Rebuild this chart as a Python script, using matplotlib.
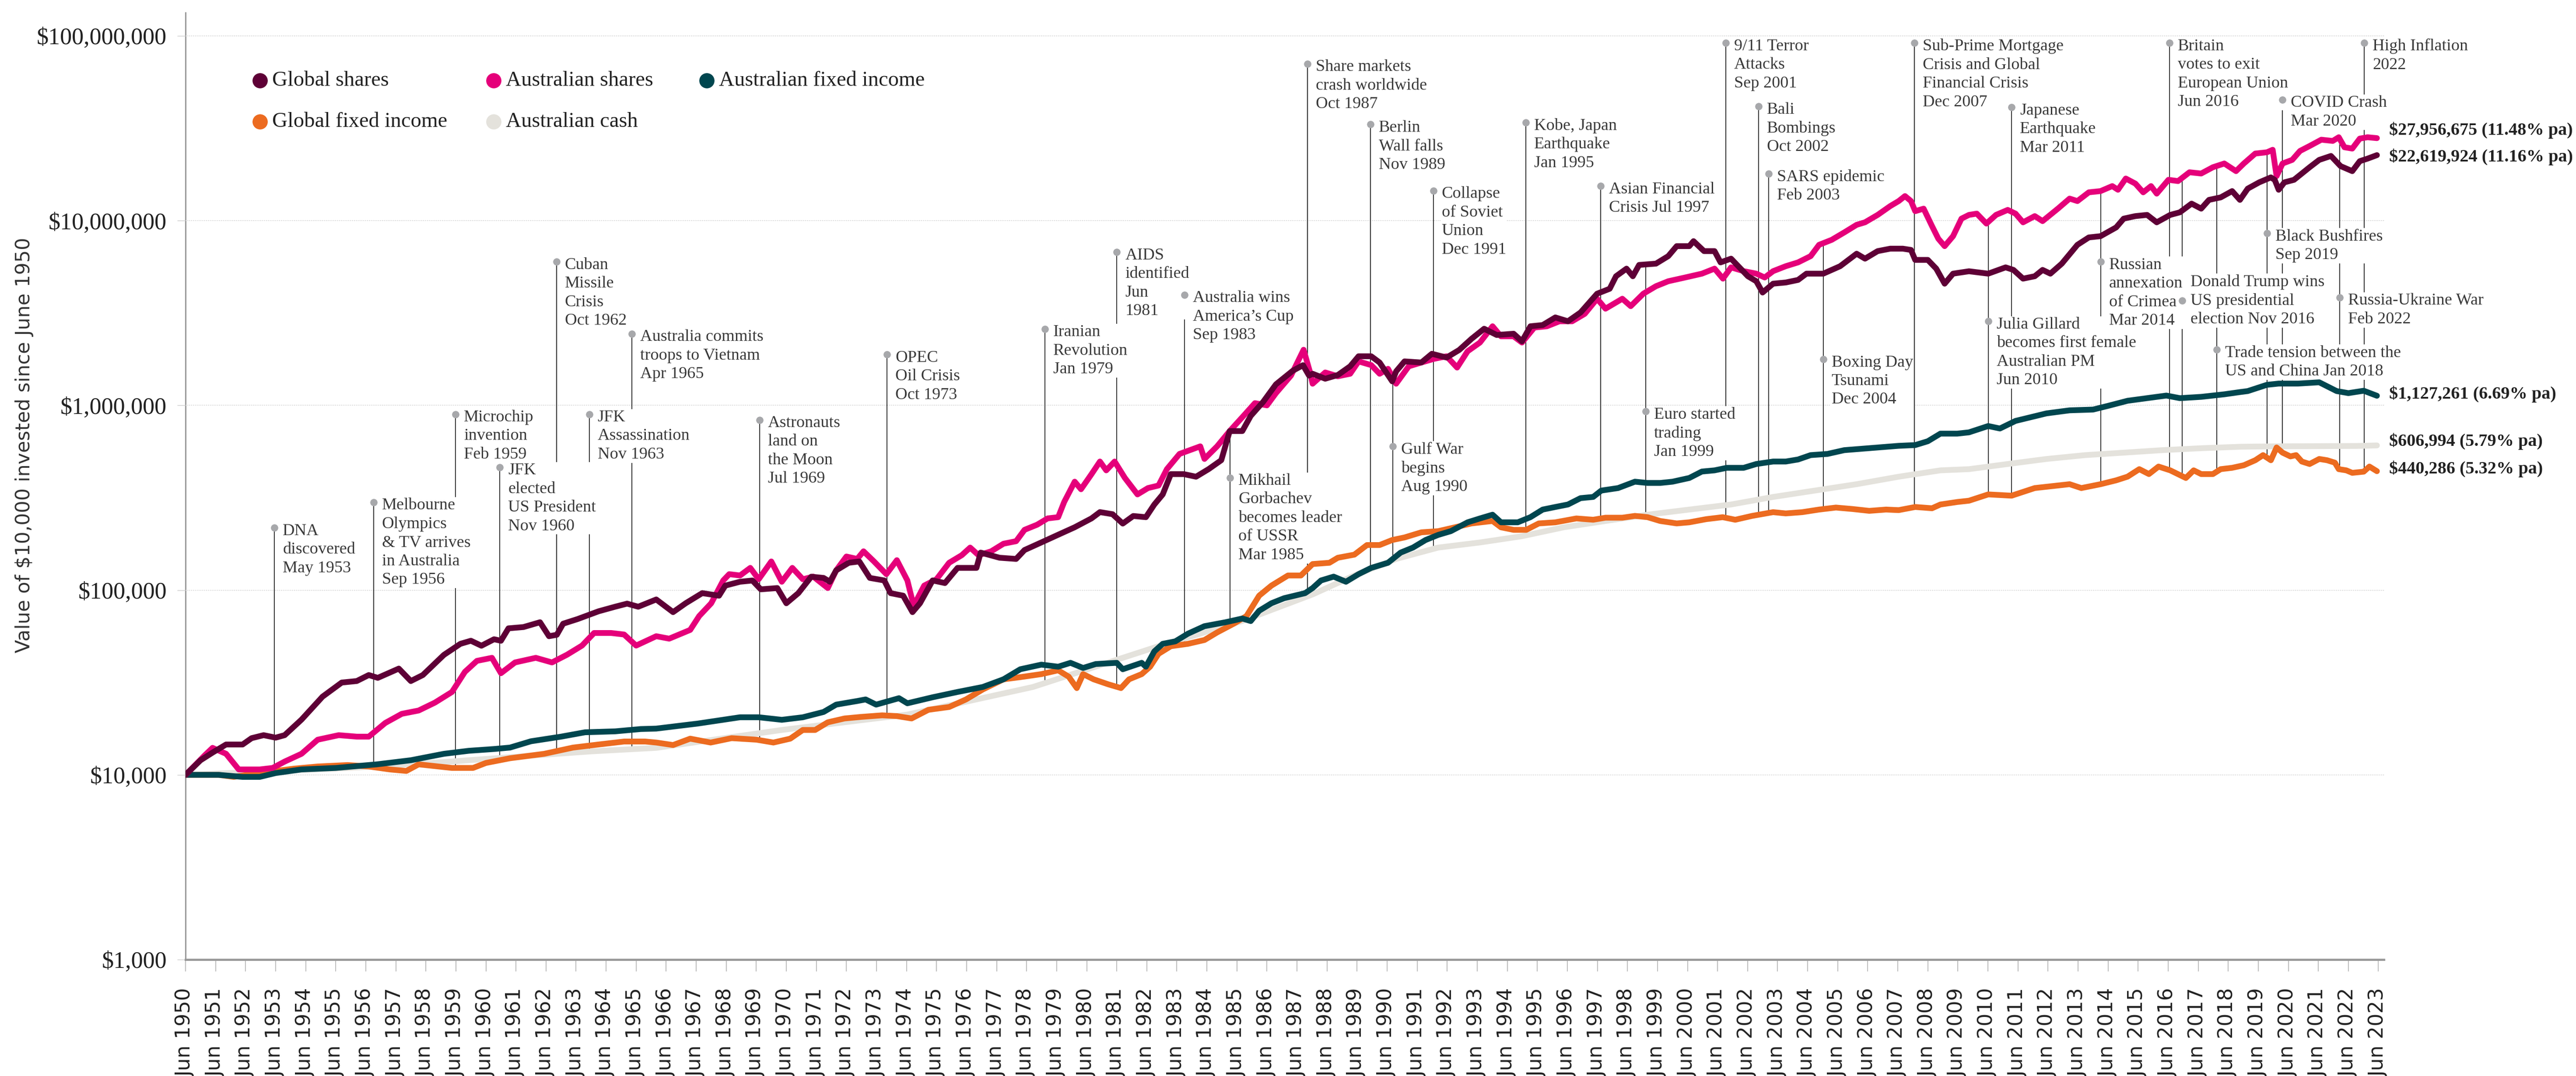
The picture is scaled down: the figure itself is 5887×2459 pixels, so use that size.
import numpy as np
import matplotlib
matplotlib.use("Agg")
import matplotlib.pyplot as plt
from matplotlib.transforms import offset_copy
from matplotlib.lines import Line2D
from matplotlib.ticker import NullLocator, FixedLocator, FixedFormatter

# ------------------------------------------------------------------ data
series_names = ["Global shares", "Australian shares", "Australian fixed income",
                "Global fixed income", "Australian cash"]

gs_years = [1950.5, 1951.0, 1951.4, 1951.85, 1952.4, 1952.7, 1953.1, 1953.5, 1953.8, 1954.36, 1955.06, 1955.7,
            1956.2, 1956.6, 1956.9, 1957.6, 1958.0, 1958.4, 1959.1, 1959.65, 1960.0, 1960.35, 1960.77, 1961.0,
            1961.25, 1961.75, 1962.3, 1962.6, 1962.86, 1963.07, 1963.55, 1964.25, 1964.8, 1965.2, 1965.57,
            1966.17, 1966.73, 1967.15, 1967.7, 1968.26, 1968.47, 1968.96, 1969.37, 1969.65, 1970.2, 1970.5,
            1970.9, 1971.33, 1971.74, 1971.95, 1972.16, 1972.58, 1972.93, 1973.28, 1973.76, 1973.97, 1974.39,
            1974.7, 1974.95, 1975.37, 1975.78, 1976.2, 1976.83, 1976.97, 1977.6, 1978.15, 1978.43, 1978.99,
            1979.55, 1980.1, 1980.66, 1980.94, 1981.36, 1981.7, 1982.05, 1982.47, 1982.75, 1983.03, 1983.3,
            1983.73, 1984.14, 1984.56, 1984.98, 1985.26, 1985.68, 1985.96, 1986.37, 1986.8, 1987.36, 1987.7,
            1987.9, 1988.02, 1988.44, 1988.86, 1989.27, 1989.55, 1989.97, 1990.25, 1990.67, 1990.8, 1991.08,
            1991.64, 1991.99, 1992.48, 1992.9, 1993.31, 1993.73, 1994.15, 1994.71, 1994.99, 1995.27, 1995.68,
            1996.1, 1996.52, 1996.94, 1997.49, 1997.91, 1998.12, 1998.47, 1998.68, 1998.89, 1999.45, 1999.86,
            2000.14, 2000.56, 2000.7, 2001.05, 2001.4, 2001.6, 2001.95, 2002.51, 2002.79, 2003.0, 2003.35,
            2003.77, 2004.18, 2004.46, 2005.02, 2005.58, 2006.13, 2006.41, 2006.83, 2007.25, 2007.67, 2007.94,
            2008.08, 2008.5, 2008.78, 2009.06, 2009.34, 2009.87, 2010.51, 2011.09, 2011.35, 2011.67, 2012.06,
            2012.32, 2012.58, 2012.96, 2013.48, 2013.86, 2014.25, 2014.77, 2015.02, 2015.41, 2015.8, 2016.12,
            2016.57, 2016.89, 2017.28, 2017.6, 2017.86, 2018.25, 2018.63, 2018.89, 2019.15, 2019.53, 2019.92,
            2020.05, 2020.18, 2020.37, 2020.69, 2020.95, 2021.21, 2021.53, 2021.92, 2022.24, 2022.63, 2022.88,
            2023.14, 2023.45]
gs_values = [10000, 12000, 13200, 14600, 14600, 15800, 16400, 15900, 16400, 19900, 26500, 31600,
             32200, 34700, 33500, 37600, 32200, 34700, 44600, 51200, 53200, 50000, 54200, 53200,
             62100, 63100, 67000, 56300, 57300, 65800, 69700, 76800, 81300, 84500, 81300,
             89000, 76000, 84900, 96300, 93300, 105800, 111000, 112700, 101000, 102600, 84900,
             96300, 118200, 116400, 111000, 127900, 140600, 142900, 116400, 112800, 96300, 93300,
             76000, 84900, 112800, 109200, 131900, 131900, 159600, 149700, 147500, 164800, 181200,
             199400, 218900, 244500, 264400, 257600, 229200, 251900, 248200, 290600, 329600, 424500,
             424500, 411000, 452000, 505000, 726000, 726000, 877000, 1043000, 1300000, 1540000, 1650000,
             1450000, 1483000, 1394000, 1460000, 1627000, 1844000, 1844000, 1706000, 1349000, 1528000, 1730000,
             1706000, 1902000, 1815000, 1995000, 2292000, 2599000, 2404000, 2443000, 2222000, 2680000, 2722000,
             2992000, 2853000, 3184000, 4022000, 4278000, 5000000, 5497000, 5000000, 5757000, 5850000, 6426000,
             7276000, 7276000, 7742000, 6838000, 6838000, 5942000, 6225000, 5000000, 4698000, 4083000, 4558000,
             4625000, 4775000, 5164000, 5164000, 5666000, 6620000, 6225000, 6838000, 7050000, 7050000, 6940000,
             6128000, 6128000, 5497000, 4558000, 5164000, 5320000, 5164000, 5585000, 5410000, 4853000, 5000000,
             5410000, 5164000, 5850000, 7397000, 8110000, 8240000, 9190000, 10250000, 10580000, 10740000, 9790000,
             10740000, 11090000, 12360000, 11610000, 12950000, 13360000, 14450000, 12950000, 14900000, 16110000, 17140000,
             16600000, 14690000, 16110000, 16630000, 17990000, 19450000, 21320000, 22390000, 19730000, 18530000, 20980000,
             21660000, 22619924]

as_years = [1950.5, 1951.15, 1951.4, 1951.85, 1952.27, 1952.97, 1953.4, 1953.8, 1954.36, 1954.9, 1955.6, 1956.2,
            1956.6, 1957.15, 1957.7, 1958.26, 1958.8, 1959.37, 1959.8, 1960.2, 1960.7, 1961.0, 1961.47, 1962.16,
            1962.7, 1963.2, 1963.7, 1964.1, 1964.67, 1965.1, 1965.5, 1966.17, 1966.6, 1967.0, 1967.3, 1967.6,
            1968.0, 1968.4, 1968.6, 1968.96, 1969.3, 1969.58, 1970.0, 1970.35, 1970.7, 1971.05, 1971.4, 1971.88,
            1972.16, 1972.5, 1972.86, 1973.07, 1973.42, 1973.83, 1974.18, 1974.53, 1974.74, 1975.09, 1975.5,
            1975.92, 1976.34, 1976.62, 1976.9, 1977.32, 1977.73, 1978.15, 1978.43, 1978.85, 1979.2, 1979.55,
            1979.75, 1980.1, 1980.31, 1980.66, 1980.94, 1981.15, 1981.43, 1981.77, 1982.19, 1982.54, 1982.89,
            1983.17, 1983.59, 1984.28, 1984.42, 1984.84, 1985.26, 1985.68, 1986.1, 1986.5, 1986.8, 1987.3,
            1987.72, 1987.93, 1988.02, 1988.44, 1988.86, 1989.27, 1989.55, 1989.97, 1990.25, 1990.53, 1990.8,
            1991.22, 1991.64, 1992.06, 1992.48, 1992.83, 1993.18, 1993.59, 1994.01, 1994.29, 1994.71, 1994.99,
            1995.4, 1995.82, 1996.24, 1996.66, 1997.08, 1997.49, 1997.77, 1998.33, 1998.61, 1999.03, 1999.45,
            1999.86, 2000.42, 2000.98, 2001.4, 2001.68, 2001.95, 2002.37, 2002.79, 2003.07, 2003.35, 2003.77,
            2004.18, 2004.6, 2004.88, 2005.3, 2005.72, 2006.13, 2006.41, 2006.83, 2007.25, 2007.53, 2007.74,
            2007.94, 2008.08, 2008.36, 2008.64, 2008.85, 2009.06, 2009.34, 2009.62, 2009.87, 2010.13, 2010.45,
            2010.77, 2011.16, 2011.42, 2011.67, 2012.06, 2012.32, 2012.83, 2013.22, 2013.48, 2013.86, 2014.25,
            2014.64, 2014.83, 2015.09, 2015.41, 2015.67, 2015.93, 2016.12, 2016.51, 2016.83, 2017.21, 2017.6,
            2017.99, 2018.37, 2018.76, 2019.02, 2019.4, 2019.79, 2019.98, 2020.11, 2020.31, 2020.63, 2020.89,
            2021.21, 2021.6, 2021.98, 2022.18, 2022.37, 2022.63, 2022.88, 2023.14, 2023.45]
as_values = [10000, 12800, 14000, 13000, 10700, 10700, 10900, 11800, 13000, 15500, 16400, 16100,
             16100, 19100, 21400, 22300, 24600, 28100, 36100, 41400, 43000, 35500, 40600, 43000,
             40600, 44700, 50100, 58600, 58600, 57500, 50100, 56300, 54600, 58100, 60900, 72400,
             84900, 112800, 122000, 120000, 131900, 114500, 142900, 111000, 131900, 114500, 118300, 102600,
             127900, 152000, 147500, 162200, 142900, 122000, 145200, 112800, 82200, 105800, 114500,
             140600, 154500, 169900, 154500, 162200, 178300, 184000, 212000, 226000, 244500, 248200,
             300000, 386300, 351600, 424500, 496600, 444900, 496600, 404900, 329600, 356800, 368300,
             452000, 546000, 600000, 513000, 600000, 726000, 863000, 1028000, 1000000, 1165000, 1450000,
             2000000, 1520000, 1310000, 1507000, 1437000, 1483000, 1730000, 1652000, 1483000, 1577000, 1310000,
             1627000, 1706000, 1786000, 1844000, 1602000, 1963000, 2188000, 2680000, 2365000, 2365000, 2188000,
             2638000, 2680000, 2853000, 2853000, 3131000, 3777000, 3337000, 3777000, 3444000, 4022000, 4416000,
             4698000, 4922000, 5164000, 5497000, 4853000, 5585000, 5327000, 5164000, 4922000, 5327000, 5666000,
             5942000, 6426000, 7397000, 7871000, 8636000, 9490000, 9795000, 10740000, 11990000, 12760000, 13580000,
             12760000, 11250000, 11610000, 9337000, 7980000, 7276000, 8240000, 10250000, 10740000, 10910000, 9637000,
             10740000, 11430000, 10910000, 9790000, 10580000, 9940000, 11610000, 13160000, 12760000, 14230000, 14450000,
             15380000, 14690000, 16900000, 15860000, 14230000, 15380000, 14000000, 16630000, 16370000, 18270000, 17990000,
             19450000, 20380000, 18530000, 20380000, 23070000, 23440000, 24180000, 17420000, 20380000, 21320000, 23830000,
             25350000, 27420000, 27000000, 28270000, 24950000, 24550000, 27800000, 28270000, 27956675]

afi_years = [1950.5, 1951.6, 1952.4, 1952.97, 1953.5, 1954.36, 1955.5, 1956.87, 1958.0, 1959.1, 1959.93, 1960.77,
             1961.3, 1962.0, 1963.0, 1963.8, 1964.8, 1965.65, 1966.17, 1967.56, 1968.96, 1969.58, 1970.35, 1971.05,
             1971.74, 1972.16, 1972.86, 1973.14, 1973.49, 1974.25, 1974.53, 1975.37, 1976.2, 1977.04, 1977.73,
             1978.29, 1978.99, 1979.55, 1979.96, 1980.38, 1980.8, 1981.5, 1981.7, 1982.33, 1982.47, 1982.75,
             1983.03, 1983.45, 1983.87, 1984.42, 1985.12, 1985.68, 1985.96, 1986.24, 1986.65, 1987.07, 1987.77,
             1988.02, 1988.3, 1988.72, 1989.13, 1989.55, 1989.97, 1990.53, 1990.95, 1991.36, 1991.78, 1992.2,
             1992.62, 1993.18, 1993.59, 1994.01, 1994.29, 1994.85, 1995.27, 1995.68, 1996.1, 1996.52, 1996.94,
             1997.36, 1997.63, 1998.19, 1998.75, 1999.17, 1999.59, 2000.0, 2000.56, 2000.98, 2001.4, 2001.81,
             2002.37, 2002.79, 2003.35, 2003.77, 2004.18, 2004.6, 2005.16, 2005.72, 2006.27, 2006.83, 2007.53,
             2008.08, 2008.5, 2008.92, 2009.48, 2009.87, 2010.51, 2010.9, 2011.42, 2011.93, 2012.45, 2013.22,
             2014.0, 2014.51, 2015.15, 2015.8, 2016.44, 2016.89, 2017.6, 2018.37, 2018.89, 2019.15, 2019.79,
             2020.18, 2020.82, 2021.53, 2022.11, 2022.5, 2023.01, 2023.45]
afi_values = [10000, 10000, 9750, 9750, 10230, 10700, 10900, 11400, 12000, 13000, 13500, 13800,
              14050, 15200, 16100, 17000, 17200, 17700, 17800, 18960, 20500, 20500, 19860, 20500,
              21900, 24000, 25100, 25600, 24000, 26000, 24400, 26300, 28100, 29900, 32900,
              37300, 39500, 38500, 40400, 37900, 39800, 40400, 37300, 40400, 38500, 46600,
              51200, 52800, 58100, 63800, 67000, 70200, 68000, 77300, 84900, 90400, 96300,
              102600, 112800, 118300, 111000, 122000, 131900, 140600, 159600, 169900, 186700, 199000,
              208500, 232800, 244300, 256000, 232800, 232800, 248200, 272900, 281800, 290700, 314700,
              319400, 345800, 356800, 386300, 380200, 380200, 386300, 404600, 438400, 444900, 459200,
              459200, 481500, 496600, 496600, 509500, 537900, 546000, 572300, 581700, 591100, 604000,
              609600, 639600, 703100, 703100, 714500, 773000, 749500, 824000, 863000, 905000, 940000,
              949000, 995000, 1059000, 1094000, 1130000, 1094000, 1112000, 1148000, 1180000, 1195000, 1292000,
              1312000, 1312000, 1333000, 1195000, 1165000, 1200000, 1127261]

gfi_years = [1950.5, 1951.6, 1952.1, 1952.97, 1954.1, 1954.9, 1955.9, 1956.6, 1957.3, 1957.85, 1958.26, 1959.37,
             1960.07, 1960.5, 1961.3, 1962.44, 1963.4, 1964.25, 1965.1, 1965.8, 1966.17, 1966.73, 1967.3, 1967.98,
             1968.68, 1969.51, 1970.07, 1970.63, 1971.05, 1971.46, 1971.88, 1972.44, 1973.0, 1973.69, 1974.18,
             1974.67, 1975.23, 1975.92, 1976.48, 1977.04, 1977.73, 1978.29, 1978.99, 1979.55, 1979.9, 1980.17,
             1980.38, 1980.73, 1981.22, 1981.64, 1981.91, 1982.33, 1982.61, 1982.89, 1983.3, 1983.87, 1984.42,
             1984.84, 1985.4, 1985.82, 1986.24, 1986.65, 1987.2, 1987.63, 1988.02, 1988.58, 1988.86, 1989.41,
             1989.83, 1990.25, 1990.67, 1991.08, 1991.64, 1992.2, 1992.76, 1993.31, 1994.01, 1994.29, 1994.71,
             1995.13, 1995.55, 1996.1, 1996.8, 1997.36, 1997.77, 1998.33, 1998.75, 1999.17, 1999.59, 2000.14,
             2000.56, 2001.12, 2001.67, 2002.09, 2002.65, 2003.35, 2003.77, 2004.32, 2004.88, 2005.44, 2006.0,
             2006.55, 2007.11, 2007.53, 2008.08, 2008.64, 2008.92, 2009.48, 2009.87, 2010.51, 2011.29, 2012.06,
             2013.22, 2013.61, 2014.25, 2014.77, 2015.15, 2015.54, 2015.86, 2016.18, 2016.57, 2017.09, 2017.35,
             2017.6, 2017.99, 2018.25, 2018.63, 2019.02, 2019.4, 2019.66, 2019.92, 2020.11, 2020.31, 2020.57,
             2020.76, 2020.95, 2021.21, 2021.53, 2021.79, 2022.05, 2022.18, 2022.43, 2022.63, 2023.01, 2023.2,
             2023.45]
gfi_values = [10000, 10000, 9750, 10230, 10800, 11100, 11300, 11100, 10700, 10500, 11400, 10900,
              10900, 11600, 12300, 13000, 14050, 14600, 15150, 15150, 14960, 14500, 15700, 14960,
              15800, 15500, 14960, 15700, 17500, 17500, 19250, 20200, 20600, 21000, 20800,
              20200, 22500, 23300, 25600, 29000, 32900, 33800, 35100, 36800, 34000, 29500,
              35100, 32900, 30900, 29500, 32900, 35100, 38500, 45200, 49700, 51200, 53700,
              59000, 65900, 72400, 93300, 105800, 120000, 120000, 138400, 140600, 149700, 155600,
              175400, 175400, 186700, 192800, 205500, 208500, 218800, 229600, 236700, 218800, 211900,
              211900, 229600, 232800, 244300, 240400, 246600, 246600, 252200, 248200, 236700, 229600,
              232800, 242100, 248200, 240400, 252200, 264200, 260100, 264200, 272900, 279800, 274700,
              268600, 272900, 271000, 281800, 277400, 290700, 299900, 304800, 329600, 324500, 356800,
              374400, 356800, 374400, 392900, 411300, 451600, 424800, 466400, 444900, 404600, 444900,
              424800, 424800, 451600, 459200, 474100, 504700, 537900, 504700, 591600, 554600, 529400,
              537900, 496600, 481500, 512700, 504700, 489700, 451600, 444900, 431300, 437700, 466400,
              440286]

cash_years = [1950.5, 1953.0, 1956.0, 1959.0, 1962.0, 1964.0, 1966.17, 1970.35, 1974.53, 1978.71, 1982.89,
              1985.68, 1988.02, 1989.41, 1990.8, 1992.2, 1993.59, 1994.99, 1996.38, 1997.77, 1999.17, 2000.56,
              2001.95, 2003.35, 2004.74, 2006.13, 2007.53, 2008.92, 2009.87, 2011.16, 2012.45, 2013.74,
              2015.02, 2016.31, 2017.6, 2018.89, 2020.18, 2021.47, 2022.76, 2023.45]
cash_values = [10000, 10400, 10900, 11700, 12700, 13400, 14000, 17500, 21200, 29900, 49700,
               68100, 94800, 120100, 147500, 169900, 181100, 195800, 218800, 236700, 256000, 272900,
               290700, 319400, 345800, 374400, 411000, 444900, 451600, 481500, 512700, 537900,
               554600, 572300, 586300, 597000, 600500, 601500, 603000, 606994]

# end-of-line labels, in the same order as series_names
end_labels = ["$22,619,924 (11.16% pa)", "$27,956,675 (11.48% pa)", "$1,127,261 (6.69% pa)",
              "$440,286 (5.32% pa)", "$606,994 (5.79% pa)"]

tick_years = list(range(1950, 2024))
tick_labels = ["Jun %d" % y for y in tick_years]
ytick_values = [1000, 10000, 100000, 1000000, 10000000, 100000000]
ytick_labels = ["$1,000", "$10,000", "$100,000", "$1,000,000", "$10,000,000", "$100,000,000"]

event_texts = [
    "DNA\ndiscovered\nMay 1953",
    "Melbourne\nOlympics\n& TV arrives\nin Australia\nSep 1956",
    "Microchip\ninvention\nFeb 1959",
    "JFK\nelected\nUS President\nNov 1960",
    "Cuban\nMissile\nCrisis\nOct 1962",
    "JFK\nAssassination\nNov 1963",
    "Australia commits\ntroops to Vietnam\nApr 1965",
    "Astronauts\nland on\nthe Moon\nJul 1969",
    "OPEC\nOil Crisis\nOct 1973",
    "Iranian\nRevolution\nJan 1979",
    "AIDS\nidentified\nJun\n1981",
    "Australia wins\nAmerica\u2019s Cup\nSep 1983",
    "Mikhail\nGorbachev\nbecomes leader\nof USSR\nMar 1985",
    "Share markets\ncrash worldwide\nOct 1987",
    "Berlin\nWall falls\nNov 1989",
    "Gulf War\nbegins\nAug 1990",
    "Collapse\nof Soviet\nUnion\nDec 1991",
    "Kobe, Japan\nEarthquake\nJan 1995",
    "Asian Financial\nCrisis Jul 1997",
    "Euro started\ntrading\nJan 1999",
    "9/11 Terror\nAttacks\nSep 2001",
    "Bali\nBombings\nOct 2002",
    "SARS epidemic\nFeb 2003",
    "Boxing Day\nTsunami\nDec 2004",
    "Sub-Prime Mortgage\nCrisis and Global\nFinancial Crisis\nDec 2007",
    "Julia Gillard\nbecomes first female\nAustralian PM\nJun 2010",
    "Japanese\nEarthquake\nMar 2011",
    "Russian\nannexation\nof Crimea\nMar 2014",
    "Britain\nvotes to exit\nEuropean Union\nJun 2016",
    "Donald Trump wins\nUS presidential\nelection Nov 2016",
    "Trade tension between the\nUS and China Jan 2018",
    "Black Bushfires\nSep 2019",
    "COVID Crash\nMar 2020",
    "Russia-Ukraine War\nFeb 2022",
    "High Inflation\n2022",
]
event_years = [1953.46, 1956.76, 1959.49, 1960.96, 1962.85, 1963.94, 1965.36, 1969.61, 1973.85, 1979.11,
               1981.50, 1983.76, 1985.27, 1987.85, 1989.95, 1990.69, 1992.04, 1995.12, 1997.61, 1999.11,
               2001.77, 2002.87, 2003.20, 2005.02, 2008.05, 2010.52, 2011.29, 2014.26, 2016.54, 2016.97,
               2018.12, 2019.79, 2020.30, 2022.21, 2023.03]

# ------------------------------------------------------------------ layout / style
W, H, DPI = 5887, 2459, 100
AX_L, AX_R, AX_B, AX_T = 424, 5448, 2193, 29          # pixel edges of the plot area
PX_PER_YEAR = 68.65
PX_PER_DECADE = 422.2

# label dot heights as fraction of the axes height (layout only)
event_heights = [0.456, 0.483, 0.576, 0.520, 0.737, 0.576, 0.661, 0.570, 0.639, 0.666,
                 0.747, 0.702, 0.509, 0.946, 0.882, 0.542, 0.812, 0.884, 0.817, 0.579,
                 0.968, 0.901, 0.830, 0.634, 0.968, 0.674, 0.900, 0.737, 0.968, 0.696,
                 0.644, 0.767, 0.908, 0.699, 0.968]
event_valign = ["top"] * len(event_texts)
event_valign[event_texts.index("Donald Trump wins\nUS presidential\nelection Nov 2016")] = "center"

colors = ["#5e0036", "#e5007a", "#00464f", "#ec6b20", "#e4e2dc"]
zorders = [8, 7, 6, 5, 4]
end_offsets = [-4, 18, 4, 5, 9]   # pixel nudges for end labels (series order)

SERIF = ["DejaVu Serif Condensed", "Liberation Serif"]
SANS = ["DejaVu Sans"]

fig = plt.figure(figsize=(W / DPI, H / DPI), dpi=DPI)
ax = fig.add_axes([AX_L / W, 1 - AX_B / H, (AX_R - AX_L) / W, (AX_B - AX_T) / H])
ax.set_yscale("log")
ax.set_xlim(1950.5, 1950.5 + (AX_R - AX_L) / PX_PER_YEAR)
ax.set_ylim(1000, 10 ** (3 + (AX_B - AX_T) / PX_PER_DECADE))

all_years = [gs_years, as_years, afi_years, gfi_years, cash_years]
all_values = [gs_values, as_values, afi_values, gfi_values, cash_values]

# draw order: cash at bottom
for i in [4, 3, 2, 1, 0]:
    ax.plot(all_years[i], all_values[i], color=colors[i], lw=9.5, solid_joinstyle="round",
            solid_capstyle="round", zorder=zorders[i])

# axes styling
for s in ["top", "right"]:
    ax.spines[s].set_visible(False)
ax.spines["left"].set_color("#9a9a9a")
ax.spines["left"].set_linewidth(2.2)
ax.spines["bottom"].set_color("#9a9a9a")
ax.spines["bottom"].set_linewidth(3.6)
ax.spines["left"].set_zorder(1)

ax.yaxis.set_major_locator(FixedLocator(ytick_values))
ax.yaxis.set_major_formatter(FixedFormatter(ytick_labels))
ax.yaxis.set_minor_locator(NullLocator())
ax.tick_params(axis="y", which="major", length=14, width=1.0, color="#c8c8c8", pad=17,
               labelsize=39, labelcolor="#222222")
for lab in ax.get_yticklabels():
    lab.set_family(SERIF)
ax.grid(axis="y", color="#c4c4c4", linestyle=(0, (1.2, 1.6)), linewidth=1.1, zorder=0)

ax.xaxis.set_major_locator(FixedLocator([y + 0.5 for y in tick_years]))
ax.xaxis.set_major_formatter(FixedFormatter(tick_labels))
ax.xaxis.set_minor_locator(NullLocator())
ax.tick_params(axis="x", which="major", length=19.5, width=1.1, color="#a8a8a8", pad=28,
               labelsize=33, labelcolor="#222222", labelrotation=90)
for lab in ax.get_xticklabels():
    lab.set_family(SANS)

fig.text(56 / W, 1 - 1017 / H, "Value of $10,000 invested since June 1950", rotation=90,
         ha="center", va="center", fontsize=32, family=SANS, color="#333333")

# legend (manual)
leg_pos = [(594, 184), (1128, 184), (1615, 184), (594, 278), (1128, 278)]
leg_order = [0, 1, 2, 3, 4]
for (px, py), i in zip(leg_pos, leg_order):
    fig.add_artist(Line2D([px / W], [1 - py / H], marker="o", markersize=24, color=colors[i],
                          linestyle="none", transform=fig.transFigure))
    fig.text((px + 28) / W, 1 - py / H, series_names[i], ha="left", va="center",
             fontsize=35, family=SERIF, color="#222222")

# annotations
ylo, yhi = np.log10(ax.get_ylim())
log_vals = [np.log10(v) for v in all_values]
for txt, ex, hfrac, va in zip(event_texts, event_years, event_heights, event_valign):
    dot_val = 10 ** (ylo + hfrac * (yhi - ylo))
    at = [10 ** np.interp(ex, yrs, lv) for yrs, lv in zip(all_years, log_vals)]
    lo = min(at)
    hi = max(max(at), dot_val)
    ax.plot([ex, ex], [lo, hi], color="#2a2a2a", lw=1.4, zorder=2, solid_capstyle="butt")
    ax.plot([ex], [dot_val], marker="o", markersize=11, color="#a7a8ab", linestyle="none", zorder=9)
    dy = 10 if va == "top" else 0
    tr = offset_copy(ax.transData, fig=fig, x=19, y=dy, units="dots")
    ax.text(ex, dot_val, txt, transform=tr, ha="left", va=va, fontsize=27.5, family=SERIF,
            color="#3a3a3a", linespacing=1.3, zorder=3,
            bbox=dict(facecolor="white", edgecolor="none", pad=1.5))

# end labels
for i in range(5):
    tr = offset_copy(ax.transData, fig=fig, x=28, y=end_offsets[i], units="dots")
    ax.text(all_years[i][-1], all_values[i][-1], end_labels[i], transform=tr, ha="left",
            va="center", fontsize=29, fontweight="bold", family=SERIF, color="#222222",
            clip_on=False)

fig.savefig("out.png", dpi=DPI)
